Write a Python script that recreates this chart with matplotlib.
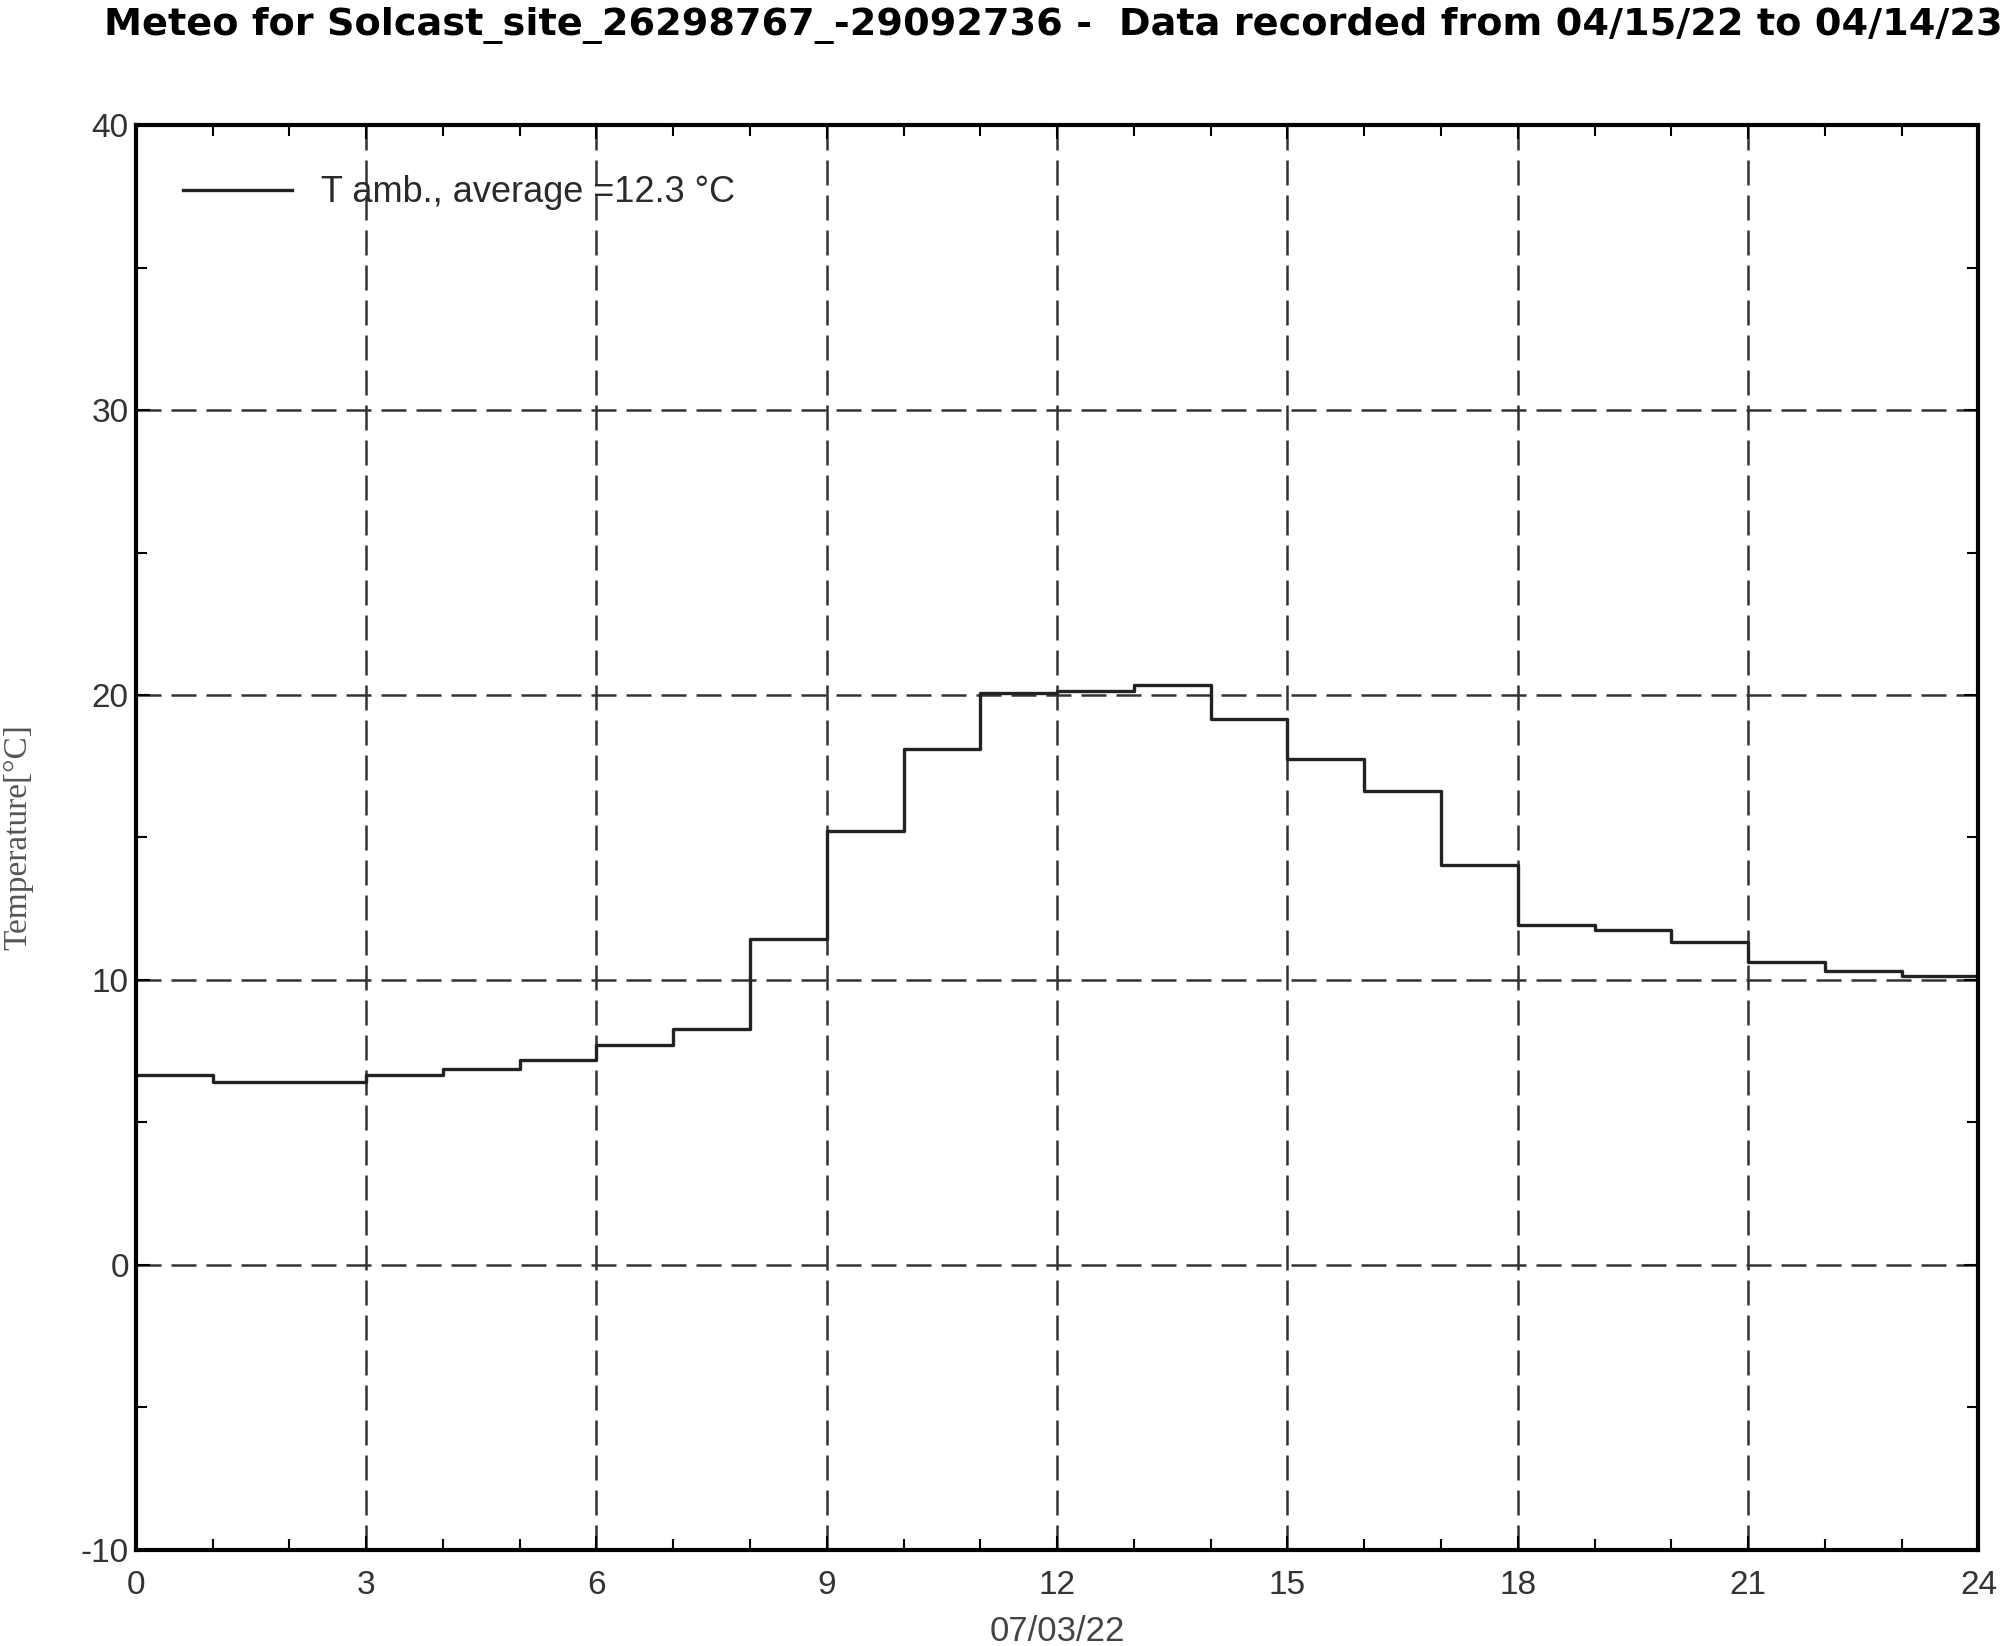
import numpy as np
import matplotlib
matplotlib.use('Agg')
import matplotlib.pyplot as plt
from matplotlib.ticker import MultipleLocator

# hourly ambient temperature, 07/03/22 (value held over each hour)
hours = list(range(0, 25))
t_amb = [6.65, 6.43, 6.43, 6.65, 6.88, 7.2, 7.72, 8.27, 11.43, 15.24, 18.09, 20.06,
         20.15, 20.35, 19.17, 17.74, 16.62, 14.03, 11.94, 11.76, 11.33, 10.64, 10.31, 10.14]
average = 12.3
day_label = '07/03/22'
title = 'Meteo for Solcast_site_26298767_-29092736 -  Data recorded from 04/15/22 to 04/14/23'

plt.rcParams['font.family'] = ['Liberation Sans', 'DejaVu Sans']
plt.rcParams['axes.unicode_minus'] = False

fig = plt.figure(figsize=(20.08, 16.46), dpi=100)
ax = fig.add_axes([0.0676, 0.0586, 0.9177, 0.8652])

y = t_amb + [t_amb[-1]]
ax.step(hours, y, where='post', color='#222222', lw=2.4,
        label='T amb., average =%.1f \u00b0C' % average)

ax.set_xlim(0, 24)
ax.set_ylim(-10, 40)
ax.xaxis.set_major_locator(MultipleLocator(3))
ax.xaxis.set_minor_locator(MultipleLocator(1))
ax.yaxis.set_major_locator(MultipleLocator(10))
ax.yaxis.set_minor_locator(MultipleLocator(5))

ax.grid(True, which='major', color='#333333', ls=(0, (10, 4)), lw=1.8)
ax.tick_params(which='both', direction='in', top=True, right=True, colors='black',
               labelcolor='#333333', labelsize=24, width=1.5)
ax.tick_params(which='major', length=10)
ax.tick_params(axis='x', which='major', pad=15)
ax.tick_params(axis='y', which='major', pad=5)
ax.tick_params(which='minor', length=8)
for sp in ax.spines.values():
    sp.set_linewidth(3)

ax.set_xlabel(day_label, fontsize=25, color='#444444', labelpad=10)
ax.set_ylabel('Temperature[\u00b0C]', fontsize=24, color='#555555',
              family=['Liberation Serif', 'DejaVu Serif'], labelpad=34)

leg = ax.legend(loc='center left', bbox_to_anchor=(0.018, 0.9526), frameon=False,
                fontsize=26, handlelength=3.0, handletextpad=0.8, borderaxespad=0)
for t in leg.get_texts():
    t.set_color('#2a2a2a')

fig.text(0.052, 0.996, title, fontsize=27.5, fontweight='bold', ha='left', va='top',
         family=['DejaVu Sans'])

fig.savefig('out.png', dpi=100)
